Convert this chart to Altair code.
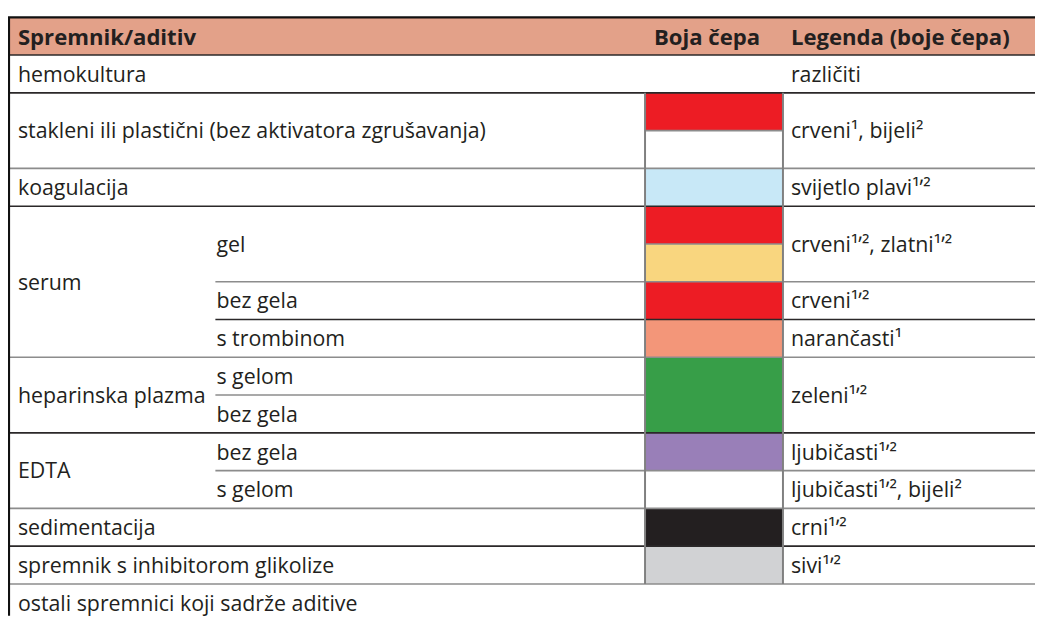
import altair as alt
import pandas as pd

# ---------------- data ----------------
header_labels = ["Spremnik/aditiv", "Boja čepa", "Legenda (boje čepa)"]

main_labels = ["hemokultura",
               "stakleni ili plastični (bez aktivatora zgrušavanja)",
               "koagulacija", "serum", "heparinska plazma", "EDTA",
               "sedimentacija", "spremnik s inhibitorom glikolize",
               "ostali spremnici koji sadrže aditive"]
main_start = [1, 2, 4, 5, 9, 11, 13, 14, 15]
main_span = [1, 2, 1, 4, 2, 2, 1, 1, 1]

sub_labels = ["gel", "bez gela", "s trombinom", "s gelom", "bez gela",
              "bez gela", "s gelom"]
sub_start = [5, 7, 8, 9, 10, 11, 12]
sub_span = [2, 1, 1, 1, 1, 1, 1]

cap_start = [2, 3, 4, 5, 6, 7, 8, 9, 11, 12, 13, 14]
cap_span = [1, 1, 1, 1, 1, 1, 1, 2, 1, 1, 1, 1]
cap_fill = ["#ED1C24", "#FFFFFF", "#C8E8F7", "#ED1C24", "#F9D67F",
            "#ED1C24", "#F39679", "#379E48", "#997FB8", "#FFFFFF",
            "#231F20", "#D1D2D4"]

legend_labels = ["različiti", "crveni¹, bijeli²", "svijetlo plavi¹ʼ²",
                 "crveni¹ʼ², zlatni¹ʼ²", "crveni¹ʼ²", "narančasti¹",
                 "zeleni¹ʼ²", "ljubičasti¹ʼ²", "ljubičasti¹ʼ², bijeli²",
                 "crni¹ʼ²", "sivi¹ʼ²"]
legend_start = [1, 2, 4, 5, 7, 8, 9, 11, 12, 13, 14]
legend_span = [1, 2, 1, 2, 1, 1, 2, 1, 1, 1, 1]

# row separators: row index, starting column, ending column, dark?
sep_row = [1, 2, 3, 4, 5, 6, 7, 8, 9, 10, 11, 12, 13, 14, 15]
sep_from = ["left", "left", "cap0", "left", "left", "cap0", "sub", "sub",
            "left", "sub", "left", "sub", "left", "left", "left"]
sep_to = ["right", "right", "cap1", "right", "right", "cap1", "right",
          "right", "right", "cap0", "right", "right", "right", "right",
          "right"]
sep_dark = [True, True, False, False, True, False, False, True, False,
            False, True, False, False, True, False]

# ---------------- layout ----------------
W, H = 1035, 610
MARGIN = 8
ROW_TOP = 15.0      # page y of row 0 top
ROW_H = 38.07
COL = {"left": 9, "sub": 217, "cap0": 650, "cap1": 789, "right": 1043}
TX_MAIN, TX_SUB, TX_LEG, TX_CAP = 18, 218, 797, 659
FONT = "Open Sans"
FS = 21.5
FS_HEAD = 22.3
INK = "#231F20"
DY = 0.05  # text sits a touch below the geometric centre

xs = alt.Scale(domain=[MARGIN, MARGIN + W], range=[0, W], nice=False, zero=False)
ys = alt.Scale(domain=[(MARGIN - ROW_TOP) / ROW_H, (MARGIN + H - ROW_TOP) / ROW_H],
               range=[0, H], nice=False, zero=False)


def X(f):
    return alt.X(f, type="quantitative", scale=xs, axis=None)


def X2(f):
    return alt.X2(f)


def Y(f):
    return alt.Y(f, type="quantitative", scale=ys, axis=None)


def Y2(f):
    return alt.Y2(f)


# header band
hdr = pd.DataFrame({"x": [COL["left"]], "x2": [COL["right"]], "y": [0], "y2": [1]})
header_band = alt.Chart(hdr).mark_rect(color="#E3A189").encode(
    x=X("x"), x2=X2("x2"), y=Y("y"), y2=Y2("y2"))

header_txt = alt.Chart(pd.DataFrame({
    "t": header_labels, "x": [TX_MAIN, TX_CAP, TX_LEG], "y": [0.55] * 3,
})).mark_text(align="left", baseline="middle", font=FONT, fontSize=FS_HEAD,
              fontWeight="bold", color=INK).encode(x=X("x"), y=Y("y"), text="t:N")

# colour blocks
caps = pd.DataFrame({"y": cap_start, "span": cap_span, "fill": cap_fill})
caps["y2"] = caps["y"] + caps["span"]
caps["x"] = COL["cap0"]
caps["x2"] = COL["cap1"]
cap_rect = alt.Chart(caps).mark_rect().encode(
    x=X("x"), x2=X2("x2"), y=Y("y"), y2=Y2("y2"),
    color=alt.Color("fill:N", scale=None))

# separators
seps = pd.DataFrame({"y": sep_row,
                     "x": [COL[c] for c in sep_from],
                     "x2": [COL[c] for c in sep_to],
                     "c": ["#2b2829" if d else "#8c8c8c" for d in sep_dark]})
sep_rules = alt.Chart(seps).mark_rule(strokeWidth=1.6).encode(
    x=X("x"), x2=X2("x2"), y=Y("y"), color=alt.Color("c:N", scale=None))

# vertical borders of colour column
vcol = pd.DataFrame({"x": [COL["cap0"], COL["cap1"]], "y": [2, 2], "y2": [15, 15]})
vrules = alt.Chart(vcol).mark_rule(strokeWidth=2, color="#808080").encode(
    x=X("x"), y=Y("y"), y2=Y2("y2"))

# outer borders
top = pd.DataFrame({"x": [COL["left"] - 1], "x2": [COL["right"]], "y": [0]})
top_rule = alt.Chart(top).mark_rule(strokeWidth=2.2, color="#111111").encode(
    x=X("x"), x2=X2("x2"), y=Y("y"))
left = pd.DataFrame({"x": [COL["left"]], "y": [0], "y2": [(MARGIN + H - ROW_TOP) / ROW_H]})
left_rule = alt.Chart(left).mark_rule(strokeWidth=2.2, color="#111111").encode(
    x=X("x"), y=Y("y"), y2=Y2("y2"))


def label_layer(labels, start, span, xpos):
    df = pd.DataFrame({"t": labels, "s": start, "n": span})
    df["y"] = df["s"] + df["n"] / 2.0 + DY
    df["x"] = xpos
    return alt.Chart(df).mark_text(align="left", baseline="middle", font=FONT,
                                   fontSize=FS, color=INK).encode(
        x=X("x"), y=Y("y"), text="t:N")


main_txt = label_layer(main_labels, main_start, main_span, TX_MAIN)
sub_txt = label_layer(sub_labels, sub_start, sub_span, TX_SUB)
leg_txt = label_layer(legend_labels, legend_start, legend_span, TX_LEG)

chart = alt.layer(header_band, cap_rect, sep_rules, vrules, top_rule, left_rule,
                  header_txt, main_txt, sub_txt, leg_txt).properties(
    width=W, height=H, padding=0, autosize=alt.AutoSizeParams(type="none"),
    background="white"
).configure_view(stroke="transparent")

chart.save("out.html", embed_options={"renderer": "svg", "actions": False})
